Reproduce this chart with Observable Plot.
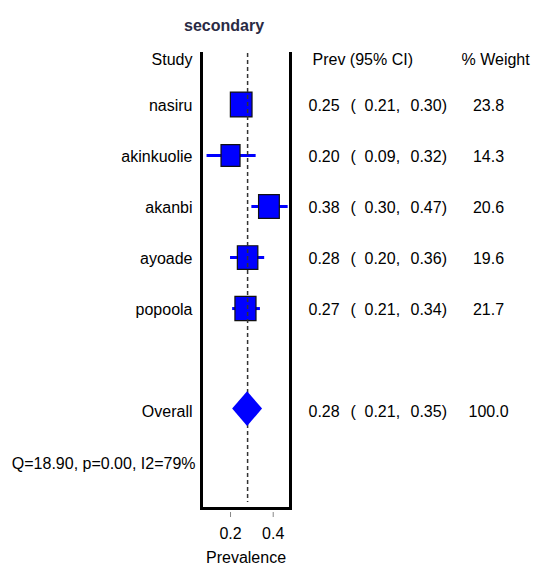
<!DOCTYPE html>
<html>
<head>
<meta charset="utf-8">
<script src="https://cdn.jsdelivr.net/npm/d3@7"></script>
<script src="https://cdn.jsdelivr.net/npm/@observablehq/plot@0.6"></script>
<style>
  html, body { margin: 0; padding: 0; background: #fff; }
  #chart { width: 533px; height: 569px; }
</style>
</head>
<body>
<div id="chart"></div>
<script>
// ---- data ----
const title = "secondary";
const studies = ["nasiru", "akinkuolie", "akanbi", "ayoade", "popoola"];
const prev = [0.25, 0.20, 0.38, 0.28, 0.27];
const lower = [0.21, 0.09, 0.30, 0.20, 0.21];
const upper = [0.30, 0.32, 0.47, 0.36, 0.34];
const weight = [23.8, 14.3, 20.6, 19.6, 21.7];
const overallLabel = "Overall";
const overallPrev = 0.28;
const overallLower = 0.21;
const overallUpper = 0.35;
const overallWeight = 100.0;
const heterogeneity = "Q=18.90, p=0.00, I2=79%";
const headerStudy = "Study";
const headerCI = "Prev (95% CI)";
const headerWeight = "% Weight";
const xTicks = [0.2, 0.4];
const xLabel = "Prevalence";

// row layout (row index used as y position)
const studyRows = studies.map((s, i) => i + 1);
const overallRow = studies.length + 2;
const hetRow = overallRow + 1;

const f2 = d3.format(".2f");
const f1 = d3.format(".1f");

const rows = studies.map((s, i) => ({
  study: s, row: studyRows[i], prev: prev[i], lower: lower[i], upper: upper[i], weight: weight[i]
}));
const allRows = [...rows, {study: overallLabel, row: overallRow, prev: overallPrev, lower: overallLower, upper: overallUpper, weight: overallWeight}];

// diamond for the pooled estimate
const dh = 0.34;
const diamond = [
  {y: overallRow - dh, x1: overallPrev, x2: overallPrev},
  {y: overallRow, x1: overallLower, x2: overallUpper},
  {y: overallRow + dh, x1: overallPrev, x2: overallPrev}
];

// slightly tall rectangle symbol (reference is vertically stretched)
const tallSquare = {
  draw(context, size) {
    const w = Math.sqrt(size / 1.15), h = w * 1.15;
    context.rect(-w / 2, -h / 2, w, h);
  }
};

const BLUE = "#0000ff";
const FONT = "'Liberation Sans', Arial, sans-serif";

const chart = Plot.plot({
  width: 533,
  height: 569,
  marginLeft: 201,
  marginRight: 243,
  marginTop: 53,
  marginBottom: 61,
  style: {fontFamily: FONT, fontSize: "16px", color: "#000", background: "#fff"},
  x: {domain: [0.064, 0.481], axis: null},
  y: {domain: [0, 8.92], reverse: true, axis: null},
  r: {type: "linear", domain: d3.extent(weight), range: [11.5, 13.1]},
  marks: [
    // title
    Plot.text([title], {frameAnchor: "top", dx: -22, dy: -34, fontSize: 16, fontWeight: "bold", fill: "#2a2a44"}),
    // headers
    Plot.text([headerStudy], {frameAnchor: "top-left", dx: -9, textAnchor: "end", fontSize: 16}),
    Plot.text([headerCI], {frameAnchor: "top-right", dx: 22, textAnchor: "start", fontSize: 16}),
    Plot.text([headerWeight], {frameAnchor: "top-right", dx: 171, textAnchor: "start", fontSize: 16}),
    // CI lines
    Plot.ruleY(rows, {y: "row", x1: "lower", x2: "upper", stroke: BLUE, strokeWidth: 3}),
    // study boxes
    Plot.dot(rows, {x: "prev", y: "row", r: "weight", symbol: tallSquare, fill: BLUE, stroke: "#111", strokeWidth: 1.2}),
    // dashed line at overall estimate
    Plot.ruleX([overallPrev], {y1: 0, y2: 8.8, stroke: "#333", strokeWidth: 1.5, strokeDasharray: "4,3"}),
    // pooled diamond
    Plot.areaX(diamond, {y: "y", x1: "x1", x2: "x2", fill: BLUE, curve: "linear", dy: -1.5}),
    // frame: left, right, bottom
    Plot.frame({anchor: "left", stroke: "#000", strokeWidth: 3}),
    Plot.frame({anchor: "right", stroke: "#000", strokeWidth: 3}),
    Plot.frame({anchor: "bottom", stroke: "#000", strokeWidth: 3, strokeLinecap: "square"}),
    // study labels
    Plot.text(allRows, {y: "row", text: "study", frameAnchor: "left", dx: -9, textAnchor: "end", fontSize: 16, dy: 1}),
    Plot.text([heterogeneity], {y: [hetRow], text: d => d, frameAnchor: "left", dx: -6, textAnchor: "end", fontSize: 16, dy: 2}),
    // numeric columns
    Plot.text(allRows, {y: "row", text: d => f2(d.prev), frameAnchor: "right", dx: 18, textAnchor: "start", fontSize: 16, dy: 1}),
    Plot.text(allRows, {y: "row", text: d => "(", frameAnchor: "right", dx: 60, textAnchor: "start", fontSize: 16, dy: 1}),
    Plot.text(allRows, {y: "row", text: d => f2(d.lower) + ",", frameAnchor: "right", dx: 74, textAnchor: "start", fontSize: 16, dy: 1}),
    Plot.text(allRows, {y: "row", text: d => f2(d.upper) + ")", frameAnchor: "right", dx: 120, textAnchor: "start", fontSize: 16, dy: 1}),
    Plot.text(allRows, {y: "row", text: d => f1(d.weight), frameAnchor: "right", dx: 198, textAnchor: "middle", fontSize: 16, dy: 1}),
    // x axis
    Plot.axisX({ticks: xTicks, anchor: "bottom", tickSize: 5, tickPadding: 10, dy: 4, stroke: "#888", fill: "#000", fontSize: 16, tickFormat: d3.format(".1f"), label: null}),
    Plot.text([xLabel], {frameAnchor: "bottom", dy: 54, fontSize: 16})
  ]
});

document.getElementById("chart").appendChild(chart);
</script>
</body>
</html>
